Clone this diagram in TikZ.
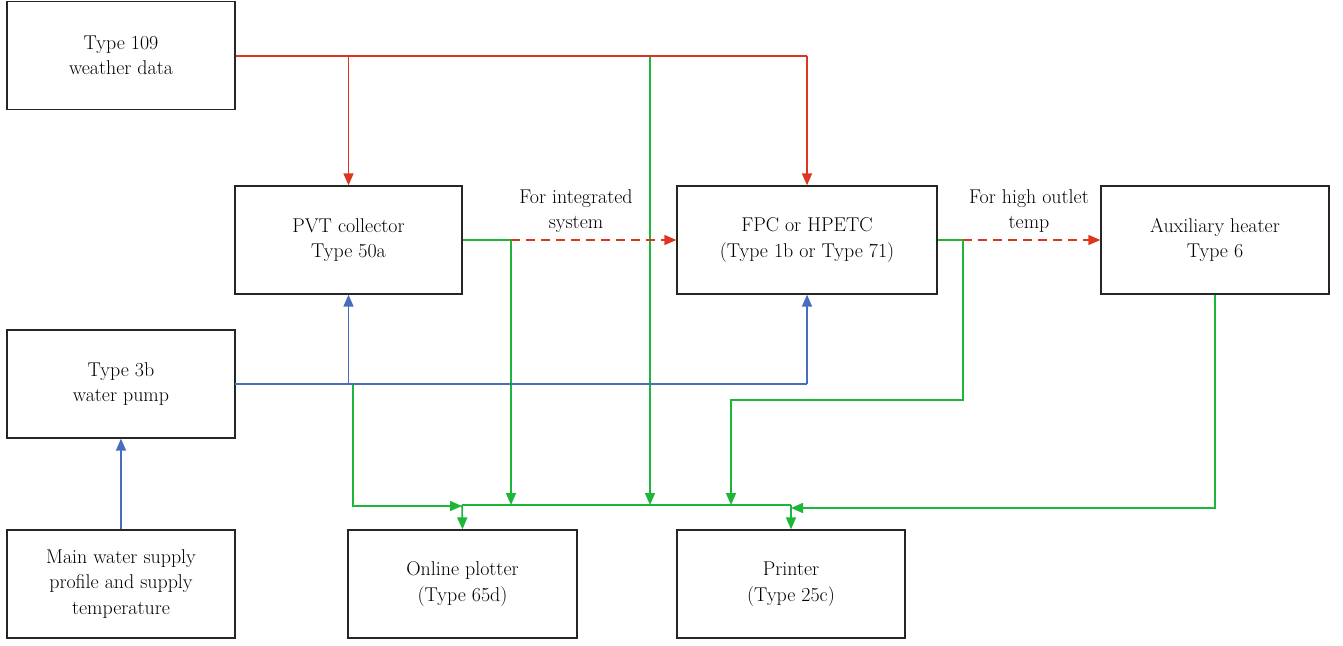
\documentclass[tikz,border=0pt]{standalone}
\usetikzlibrary{arrows.meta}
\definecolor{cred}{RGB}{222,52,34}
\definecolor{cgreen}{RGB}{28,182,56}
\definecolor{cblue}{RGB}{72,108,190}
\begin{document}
\begin{tikzpicture}[x=1bp,y=-1bp,
  box/.style={draw=black!85,line width=1.3bp,minimum width=228bp,minimum height=108bp,align=center,inner sep=0pt,font=\fontsize{20}{25.5}\selectfont},
  wide/.style={box,minimum width=260bp},
  lbl/.style={align=center,font=\fontsize{20}{25.5}\selectfont},
  conn/.style={line width=1.6bp,-{Triangle[length=12bp,width=10bp]}},
  plain/.style={line width=1.6bp},
  redc/.style={draw=cred},
  greenc/.style={draw=cgreen},
  bluec/.style={draw=cblue}]
\useasboundingbox (0,0) rectangle (1343,646);
\node[box] (w) at (121,55.5) {Type 109\\weather data};
\node[box,minimum width=227bp] (pvt) at (348.5,240) {PVT collector\\Type 50a};
\node[wide] (fpc) at (807,240) {FPC or HPETC\\(Type 1b or Type 71)};
\node[box] (aux) at (1215,240) {Auxiliary heater\\Type 6};
\node[box] (pump) at (121,384) {Type 3b\\water pump};
\node[box] (main) at (121,584) {Main water supply\\profile and supply\\temperature};
\node[box,minimum width=229bp] (plot) at (462.5,584) {Online plotter\\(Type 65d)};
\node[box] (prn) at (791,584) {Printer\\(Type 25c)};
% junction coordinates
\coordinate (wr) at (w.east |- 0,56);
\coordinate (jb1) at (462,505);
\coordinate (jb2) at (791,505);
\coordinate (g0) at (650,56);
\coordinate (s1) at (511,240);
\coordinate (s2) at (963,240);
% green lines (underneath)
\draw[conn,greenc] (g0) -- (g0 |- jb1);
\draw[conn,greenc] (pvt.east) -- (s1) -- (s1 |- jb1);
\draw[conn,greenc] (fpc.east) -- (s2) -- (963,400) -- (731,400) -- (731,505);
\draw[conn,greenc] (235,384) -- (353,384) -- (353,506) -- (jb1 |- 0,506);
\draw[conn,greenc] (aux.south) -- (1215,508) -- (jb2 |- 0,508);
\draw[plain,cgreen] (jb1) -- (jb2);
\draw[conn,greenc] (jb1) -- (plot.north);
\draw[conn,greenc] (jb2) -- (prn.north);
% red lines
\draw[plain,cred] (wr) -- (807,56);
\draw[conn,redc] (807,56) -- (fpc.north);
\draw[conn,redc] (348.5,56) -- (pvt.north);
\draw[conn,redc,dash pattern=on 9bp off 6bp] (s1) -- (fpc.west);
\draw[conn,redc,dash pattern=on 9bp off 6bp] (s2) -- (aux.west);
% blue lines
\draw[plain,cblue] (pump.east |- 0,384) -- (807,384);
\draw[conn,bluec] (807,384) -- (fpc.south);
\draw[conn,bluec] (348.5,384) -- (pvt.south);
\draw[conn,bluec] (main.north) -- (pump.south);
% labels
\node[lbl] (l1) at (576,211) {For integrated\\system};
\node[lbl] (l2) at (1029,211) {For high outlet\\temp};
\end{tikzpicture}
\end{document}
